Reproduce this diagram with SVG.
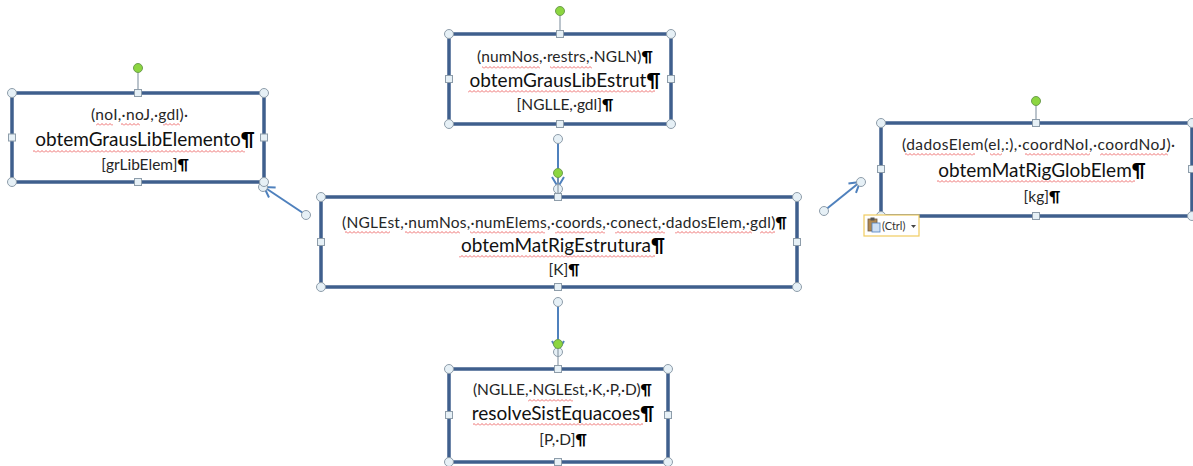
<svg xmlns="http://www.w3.org/2000/svg" width="1193" height="466" viewBox="0 0 1193 466">
<defs>
<style>
.box{fill:#fff;stroke:#3F5F8D;stroke-width:3.5}
.h{fill:#E6F0F6;stroke:#8E9DAA;stroke-width:1}
.rot{fill:#8CD640;stroke:#6E9E50;stroke-width:1}
.stem{stroke:#8E9DAA;stroke-width:1.2}
.con{stroke:#4F81BD;stroke-width:2;fill:none}
.t1{font-family:Lato,"Liberation Sans",sans-serif;font-size:15.5px;fill:#262626;text-anchor:middle}
.t2{font-family:Lato,"Liberation Sans",sans-serif;font-size:19px;fill:#111;text-anchor:middle}
.p{fill:#000;font-weight:bold}
.sq{fill:url(#wave)}
</style>
<pattern id="wave" width="4" height="3" patternUnits="userSpaceOnUse">
<path d="M0 2.5 L2 0.5 L4 2.5" fill="none" stroke="#E84848" stroke-width="0.8"/>
</pattern>
<marker id="arr" markerWidth="14" markerHeight="14" refX="12" refY="7" orient="auto" markerUnits="userSpaceOnUse">
<path d="M2 1 L12 7 L2 13" fill="none" stroke="#4F81BD" stroke-width="2"/>
</marker>
</defs>

<g id="connectors">
<line class="con" x1="306" y1="215" x2="264" y2="187" marker-end="url(#arr)"/>
<line class="con" x1="558" y1="139" x2="558" y2="187" marker-end="url(#arr)"/>
<line class="con" x1="824" y1="211" x2="860" y2="182" marker-end="url(#arr)"/>
<line class="con" x1="558" y1="302" x2="558" y2="351" marker-end="url(#arr)"/>
<circle class="h" cx="306" cy="215" r="4.5"/>
<circle class="h" cx="263" cy="187" r="4.5"/>
<circle class="h" cx="558" cy="139" r="4.5"/>
<circle class="h" cx="558" cy="189" r="4.5"/>
<circle class="h" cx="824" cy="211" r="4.5"/>
<circle class="h" cx="861" cy="182" r="4.5"/>
<circle class="h" cx="558" cy="302" r="4.5"/>
<circle class="h" cx="558" cy="352" r="4.5"/>
</g>

<g id="node-obtemGrausLibElemento">
<line class="stem" x1="138" y1="72" x2="138" y2="93"/>
<circle class="rot" cx="138" cy="68" r="4.5"/>
<rect class="box" x="12" y="93" width="252" height="89"/>
<text class="t1" x="139.5" y="120" textLength="97" lengthAdjust="spacing">(noI,·noJ,·gdl)·</text>
<text class="t2" x="145" y="146">obtemGrausLibElemento<tspan class="p">¶</tspan></text>
<text class="t1" x="145" y="170">[grLibElem]<tspan class="p">¶</tspan></text>
<rect class="sq" x="96" y="123" width="17" height="3"/>
<rect class="sq" x="121" y="123" width="19" height="3"/>
<rect class="sq" x="163" y="123" width="17" height="3"/>
<rect class="sq" x="33" y="150" width="212" height="3"/>
<circle class="h" cx="12" cy="93" r="4.5"/><circle class="h" cx="264" cy="93" r="4.5"/>
<circle class="h" cx="12" cy="182" r="4.5"/><circle class="h" cx="264" cy="182" r="4.5"/>
<rect class="h" x="134.5" y="89.5" width="7" height="7"/><rect class="h" x="134.5" y="178.5" width="7" height="7"/>
<rect class="h" x="8.5" y="134" width="7" height="7"/><rect class="h" x="260.5" y="134" width="7" height="7"/>
</g>

<g id="node-obtemGrausLibEstrut">
<line class="stem" x1="560" y1="15" x2="560" y2="34"/>
<circle class="rot" cx="560" cy="11" r="4.5"/>
<rect class="box" x="449" y="34" width="222" height="90"/>
<text class="t1" x="565" y="62" textLength="176" lengthAdjust="spacing">(numNos,·restrs,·NGLN)<tspan class="p">¶</tspan></text>
<text class="t2" x="565" y="87">obtemGrausLibEstrut<tspan class="p">¶</tspan></text>
<text class="t1" x="565" y="110">[NGLLE,·gdl]<tspan class="p">¶</tspan></text>
<rect class="sq" x="482" y="66" width="58" height="3"/>
<rect class="sq" x="550" y="66" width="42" height="3"/>
<rect class="sq" x="468" y="90" width="187" height="3"/>
<circle class="h" cx="449" cy="34" r="4.5"/><circle class="h" cx="671" cy="34" r="4.5"/>
<circle class="h" cx="449" cy="124" r="4.5"/><circle class="h" cx="671" cy="124" r="4.5"/>
<rect class="h" x="556.5" y="30.5" width="7" height="7"/><rect class="h" x="556.5" y="120.5" width="7" height="7"/>
<rect class="h" x="445.5" y="75.5" width="7" height="7"/><rect class="h" x="667.5" y="75.5" width="7" height="7"/>
</g>

<g id="node-obtemMatRigEstrutura">
<line class="stem" x1="558" y1="177" x2="558" y2="197"/>
<circle class="rot" cx="558" cy="173" r="4.5"/>
<rect class="box" x="321" y="197" width="476" height="90"/>
<text class="t1" x="564.5" y="228" textLength="445" lengthAdjust="spacing">(NGLEst,·numNos,·numElems,·coords,·conect,·dadosElem,·gdl)<tspan class="p">¶</tspan></text>
<text class="t2" x="563" y="252">obtemMatRigEstrutura<tspan class="p">¶</tspan></text>
<text class="t1" x="564" y="275">[K]<tspan class="p">¶</tspan></text>
<rect class="sq" x="345" y="231" width="45" height="3"/>
<rect class="sq" x="405" y="231" width="55" height="3"/>
<rect class="sq" x="470" y="231" width="75" height="3"/>
<rect class="sq" x="555" y="231" width="50" height="3"/>
<rect class="sq" x="615" y="231" width="50" height="3"/>
<rect class="sq" x="675" y="231" width="77" height="3"/>
<rect class="sq" x="760" y="231" width="15" height="3"/>
<rect class="sq" x="459" y="255" width="196" height="3"/>
<circle class="h" cx="321" cy="197" r="4.5"/><circle class="h" cx="797" cy="197" r="4.5"/>
<circle class="h" cx="321" cy="287" r="4.5"/><circle class="h" cx="797" cy="287" r="4.5"/>
<rect class="h" x="554.5" y="193.5" width="7" height="7"/><rect class="h" x="554.5" y="283.5" width="7" height="7"/>
<rect class="h" x="317.5" y="238.5" width="7" height="7"/><rect class="h" x="793.5" y="238.5" width="7" height="7"/>
</g>

<g id="node-obtemMatRigGlobElem">
<line class="stem" x1="1036" y1="105" x2="1036" y2="123"/>
<circle class="rot" cx="1036" cy="101" r="4.5"/>
<rect class="box" x="881" y="123" width="311" height="93"/>
<text class="t1" x="1038.5" y="150" textLength="273" lengthAdjust="spacing">(dadosElem(el,:),·coordNoI,·coordNoJ)·</text>
<text class="t2" x="1042" y="177">obtemMatRigGlobElem<tspan class="p">¶</tspan></text>
<text class="t1" x="1042" y="202">[kg]<tspan class="p">¶</tspan></text>
<rect class="sq" x="905" y="153" width="70" height="3"/>
<rect class="sq" x="990" y="153" width="12" height="3"/>
<rect class="sq" x="1025" y="153" width="65" height="3"/>
<rect class="sq" x="1100" y="153" width="68" height="3"/>
<rect class="sq" x="937" y="180" width="198" height="3"/>
<circle class="h" cx="881" cy="123" r="4.5"/><circle class="h" cx="1192" cy="123" r="4.5"/>
<circle class="h" cx="881" cy="216" r="4.5"/><circle class="h" cx="1192" cy="216" r="4.5"/>
<rect class="h" x="1032.5" y="119.5" width="7" height="7"/><rect class="h" x="1032.5" y="212.5" width="7" height="7"/>
<rect class="h" x="877.5" y="165.5" width="7" height="7"/><rect class="h" x="1188.5" y="165.5" width="7" height="7"/>
</g>

<g id="node-resolveSistEquacoes">
<line class="stem" x1="558" y1="348" x2="558" y2="369"/>
<circle class="rot" cx="558" cy="344" r="4.5"/>
<rect class="box" x="449" y="369" width="219" height="93"/>
<text class="t1" x="562.5" y="395" textLength="179" lengthAdjust="spacing">(NGLLE,·NGLEst,·K,·P,·D)<tspan class="p">¶</tspan></text>
<text class="t2" x="563" y="420">resolveSistEquacoes<tspan class="p">¶</tspan></text>
<text class="t1" x="563" y="445">[P,·D]<tspan class="p">¶</tspan></text>
<rect class="sq" x="528" y="399" width="45" height="3"/>
<rect class="sq" x="473" y="423" width="170" height="3"/>
<circle class="h" cx="449" cy="369" r="4.5"/><circle class="h" cx="668" cy="369" r="4.5"/>
<circle class="h" cx="449" cy="462" r="4.5"/><circle class="h" cx="668" cy="462" r="4.5"/>
<rect class="h" x="554.5" y="365.5" width="7" height="7"/><rect class="h" x="554.5" y="458.5" width="7" height="7"/>
<rect class="h" x="445.5" y="411.5" width="7" height="7"/><rect class="h" x="664.5" y="411.5" width="7" height="7"/>
</g>

<g id="paste-options">
<rect x="864" y="215" width="55" height="21" fill="#fff" stroke="#F0CC60" stroke-width="1.2"/>
<rect x="868" y="219" width="9" height="12" fill="#B08850" stroke="#6B5A45" stroke-width="0.8"/>
<rect x="870.5" y="217.5" width="4" height="3" fill="#555"/>
<rect x="872" y="223" width="8" height="9" fill="#CFE0F4" stroke="#4F7FBF" stroke-width="0.8"/>
<text x="882" y="230" font-family="Lato,'Liberation Sans',sans-serif" font-size="11" fill="#333">(Ctrl)</text>
<path d="M911 225 L916 225 L913.5 228 Z" fill="#444"/>
</g>
</svg>
